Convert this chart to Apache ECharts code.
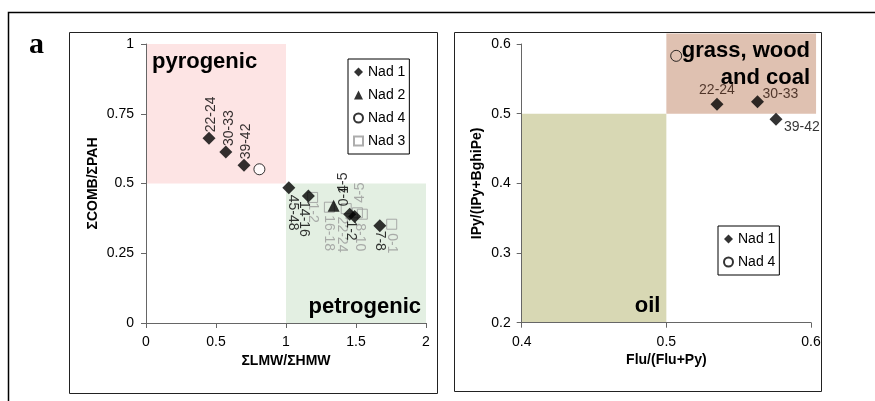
<!DOCTYPE html>
<html><head><meta charset="utf-8">
<script src="https://cdn.jsdelivr.net/npm/echarts@6/dist/echarts.min.js"></script>
<style>html,body{margin:0;padding:0;background:#fff}#c{width:875px;height:401px}</style>
</head><body><div id="c"></div>
<script>
// ---------- data ----------
const leftXTicks = [0, 0.5, 1, 1.5, 2];
const leftYTicks = [0, 0.25, 0.5, 0.75, 1];
const rightXTicks = [0.4, 0.5, 0.6];
const rightYTicks = [0.2, 0.3, 0.4, 0.5, 0.6];

const nad1Left = [[0.45,0.662],[0.57,0.613],[0.70,0.565],[1.02,0.485],[1.16,0.455],[1.455,0.39],[1.49,0.382],[1.67,0.349]];
const nad1LeftLabels = ['22-24','30-33','39-42','45-48','14-16','0-1','1-2','7-8'];
const nad2Left = [[1.34,0.42]];
const nad2LeftLabels = ['4-5'];
const nad4Left = [[0.81,0.551]];
const nad3Left = [[1.19,0.45],[1.31,0.415],[1.43,0.41],[1.51,0.395],[1.545,0.39],[1.755,0.354]];
const nad3LeftLabels = ['1-2','16-18','22-24','4-5','8-10','0-1'];

const nad1Right = [[0.535,0.5135],[0.563,0.517],[0.5758,0.492]];
const nad1RightLabels = ['22-24','30-33','39-42'];
const nad4Right = [[0.5068,0.583]];

const leftRegionNames = ['pyrogenic','petrogenic'];
const leftRegionBounds = [[0,0.5,1,1],[1,0,2,0.5]];
const rightRegionNames = ['grass, wood\nand coal','oil'];
const rightRegionBounds = [[0.5,0.5,0.6035,0.615],[0.4,0.2,0.5,0.5]];

const legendLeft = ['Nad 1','Nad 2','Nad 4','Nad 3'];
const legendRight = ['Nad 1','Nad 4'];

// ---------- styles ----------
const FONT = 'Liberation Sans, Arial, sans-serif';
const GRAY = '#999999';
// label placement: [direction, screen dx, screen dy]
const nad1LeftPlace = [['up',2,-6],['up',3,-6],['up',2,-6],['down',4,7],['down',-5,5],['up',-6,-8],['down',-4,4],['down',0,5]];
const nad2LeftPlace = [['up',10,-13]];
const nad3LeftPlace = [['down',0,5],['down',-1,8],['down',-4,8],['up',3,-10],['down',-2,9],['down',0,9]];
const nad1RightPlace = [[0,-14,'center'],[5,-8,'left'],[8,8,'left']];
const regionFill = {pyrogenic:'#fde4e4', petrogenic:'#e3efe2', 'grass, wood\nand coal':'#dfc1b1', oil:'#d8d8b4'};
const regionText = {pyrogenic:['tl',6,4], petrogenic:['br',5,3], 'grass, wood\nand coal':['tr',6,4], oil:['br',6,3]};

function rotLabel(p, text, color) {
  const up = p[0] === 'up', sx = p[1], sy = p[2];
  return {show:true, position:'inside', rotate: up ? 90 : -90, align:'left', verticalAlign:'middle',
    offset: up ? [-sy, sx] : [sy, -sx], color, fontSize:14, fontFamily:FONT, formatter: text};
}
function items(pts, labels, places, color) {
  return pts.map((v,i) => ({value:v, label: labels ? rotLabel(places[i], labels[i], color) : undefined}));
}
function ticksAxis(t) {
  return {min:t[0], max:t[t.length-1], interval:+(t[1]-t[0]).toFixed(6)};
}
function regionSeries(names, bounds, xi) {
  return {
    type:'custom', xAxisIndex:xi, yAxisIndex:xi, clip:false, silent:true, z:0,
    data: bounds.map(b => b.slice()),
    renderItem: (params, api) => {
      const name = names[params.dataIndex];
      const p1 = api.coord([api.value(0), api.value(1)]);
      const p2 = api.coord([api.value(2), api.value(3)]);
      const x0 = Math.min(p1[0],p2[0]), x1 = Math.max(p1[0],p2[0]);
      const y0 = Math.min(p1[1],p2[1]), y1 = Math.max(p1[1],p2[1]);
      const tp = regionText[name];
      let tx, ty, align, va;
      if (tp[0]==='tl') {tx=x0+tp[1]; ty=y0+tp[2]; align='left'; va='top';}
      else if (tp[0]==='tr') {tx=x1-tp[1]; ty=y0+tp[2]; align='right'; va='top';}
      else {tx=x1-tp[1]; ty=y1-tp[2]; align='right'; va='bottom';}
      return {type:'group', children:[
        {type:'rect', shape:{x:x0,y:y0,width:x1-x0,height:y1-y0}, style:{fill:regionFill[name]}},
        {type:'text', style:{text:name, x:tx, y:ty, align, verticalAlign:va, fill:'#000',
          font:'bold 22px ' + FONT, lineHeight:27}}
      ]};
    }
  };
}

const axisCommon = {
  axisLine:{onZero:false, lineStyle:{color:'#666', width:1}},
  axisTick:{show:true, length:5, lineStyle:{color:'#666'}},
  splitLine:{show:false},
  axisLabel:{color:'#000', fontSize:14, fontFamily:FONT},
  nameLocation:'middle',
  nameTextStyle:{color:'#000', fontSize:14, fontWeight:'bold', fontFamily:FONT}
};

const chart = echarts.init(document.getElementById('c'), null, {renderer:'canvas'});
chart.setOption({
  animation:false,
  backgroundColor:'#fff',
  grid:[
    {left:146, top:44, width:280, height:279},
    {left:521.7, top:44, width:289.3, height:278.7}
  ],
  xAxis:[
    Object.assign({type:'value', gridIndex:0, name:'ΣLMW/ΣHMW', nameGap:30}, ticksAxis(leftXTicks), axisCommon,
      {axisLabel:Object.assign({}, axisCommon.axisLabel, {margin:12})}),
    Object.assign({type:'value', gridIndex:1, name:'Flu/(Flu+Py)', nameGap:30}, ticksAxis(rightXTicks), axisCommon,
      {axisLabel:Object.assign({}, axisCommon.axisLabel, {margin:12})})
  ],
  yAxis:[
    Object.assign({type:'value', gridIndex:0, name:'ΣCOMB/ΣPAH', nameGap:46}, ticksAxis(leftYTicks), axisCommon,
      {axisLabel:Object.assign({}, axisCommon.axisLabel, {margin:12})}),
    Object.assign({type:'value', gridIndex:1, name:'IPy/(IPy+BghiPe)', nameGap:38}, ticksAxis(rightYTicks), axisCommon,
      {axisLabel:Object.assign({}, axisCommon.axisLabel, {margin:11})})
  ],
  legend:[
    {data:legendLeft, orient:'vertical', left:348, top:59, padding:[5,4,5,5], itemWidth:9, itemHeight:9, itemGap:7,
     borderColor:'#000', borderWidth:1, selectedMode:false, backgroundColor:'#fff',
     textStyle:{fontSize:14, fontFamily:FONT, color:'#000', lineHeight:16}},
    {data:legendRight, orient:'vertical', left:718, top:226, padding:[5,4,5,5], itemWidth:9, itemHeight:9, itemGap:7,
     borderColor:'#000', borderWidth:1, selectedMode:false, backgroundColor:'#fff',
     textStyle:{fontSize:14, fontFamily:FONT, color:'#000', lineHeight:16}}
  ],
  graphic:[
    {type:'rect', silent:true, shape:{x:8.5, y:12.5, width:900, height:420}, style:{fill:'none', stroke:'#000', lineWidth:1.5}},
    {type:'rect', silent:true, shape:{x:69.5, y:32.5, width:368, height:361}, style:{fill:'none', stroke:'#222', lineWidth:1}},
    {type:'rect', silent:true, shape:{x:454.5, y:32.5, width:367, height:359}, style:{fill:'none', stroke:'#222', lineWidth:1}},
    {type:'text', silent:true, style:{text:'a', x:29, y:60, verticalAlign:'bottom', fill:'#000', font:'bold 30px Liberation Serif, Times New Roman, serif'}}
  ],
  series:[
    regionSeries(leftRegionNames, leftRegionBounds, 0),
    regionSeries(rightRegionNames, rightRegionBounds, 1),
    {name:'Nad 3', type:'scatter', xAxisIndex:0, yAxisIndex:0, symbol:'rect', symbolSize:10, z:3,
     itemStyle:{color:'rgba(255,255,255,0)', borderColor:GRAY, borderWidth:1},
     data: items(nad3Left, nad3LeftLabels, nad3LeftPlace, GRAY)},
    {name:'Nad 1', type:'scatter', xAxisIndex:0, yAxisIndex:0, symbol:'diamond', symbolSize:13, z:4,
     itemStyle:{color:'#000'}, data: items(nad1Left, nad1LeftLabels, nad1LeftPlace, '#000')},
    {name:'Nad 2', type:'scatter', xAxisIndex:0, yAxisIndex:0, symbol:'triangle', symbolSize:12, z:4,
     itemStyle:{color:'#000'}, data: items(nad2Left, nad2LeftLabels, nad2LeftPlace, '#000')},
    {name:'Nad 4', type:'scatter', xAxisIndex:0, yAxisIndex:0, symbol:'circle', symbolSize:11, z:4,
     itemStyle:{color:'#fff', borderColor:'#000', borderWidth:1}, data: nad4Left},
    {name:'Nad 1', type:'scatter', xAxisIndex:1, yAxisIndex:1, symbol:'diamond', symbolSize:13, z:4,
     itemStyle:{color:'#000'},
     data: nad1Right.map((v,i) => ({value:v, label:{show:true, position:'inside', align:nad1RightPlace[i][2], verticalAlign:'middle',
       offset:[nad1RightPlace[i][0], nad1RightPlace[i][1]], color: i<2 ? '#2a1208' : '#000', fontSize:14, fontFamily:FONT,
       formatter: nad1RightLabels[i]}}))},
    {name:'Nad 4', type:'scatter', xAxisIndex:1, yAxisIndex:1, symbol:'circle', symbolSize:11, z:4,
     itemStyle:{color:'rgba(255,255,255,0)', borderColor:'#000', borderWidth:1}, data: nad4Right}
  ]
});
</script></body></html>
